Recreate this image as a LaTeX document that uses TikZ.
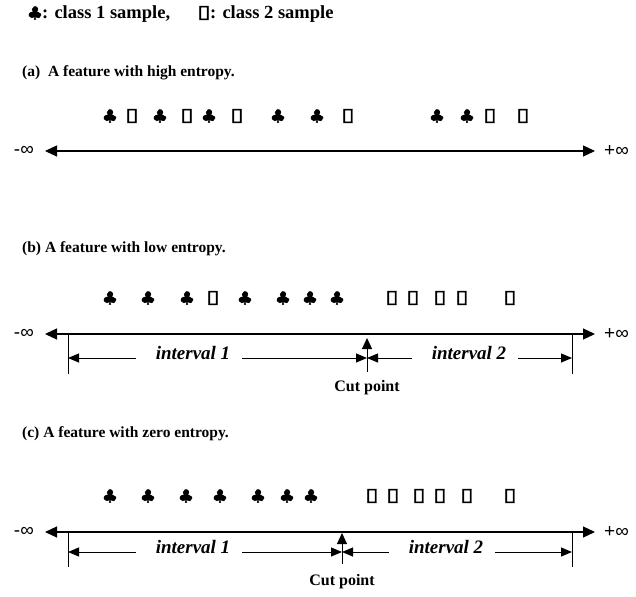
\documentclass[tikz,border=0pt]{standalone}
\usepackage{fontspec}
\setmainfont{Liberation Serif}
\newfontfamily\inffont{Liberation Sans}
\newfontfamily\suitfont[FakeBold=2]{DejaVu Sans}
\newfontfamily\boxfont[FakeBold=2.5, FakeStretch=1.35]{DejaVu Sans}
\usetikzlibrary{arrows.meta}

\tikzset{
  heading/.style={anchor=base west, inner sep=0pt, font=\bfseries\fontsize{15.5}{18}\selectfont},
  keytext/.style={anchor=base west, inner sep=0pt, font=\bfseries\fontsize{18.5}{20}\selectfont},
  clubmark/.style={inner sep=0pt, font=\suitfont\fontsize{18}{18}\selectfont},
  boxmark/.style={inner sep=0pt, font=\boxfont\fontsize{18}{18}\selectfont},
  infinity/.style={inner sep=0pt, font=\inffont\fontsize{19}{19}\selectfont},
  axisline/.style={line width=1.2pt, {Triangle[length=12pt,width=11pt]}-{Triangle[length=12pt,width=11pt]}},
  tickline/.style={line width=1pt},
  intervalline/.style={line width=1pt, -{Triangle[length=11pt,width=9pt]}},
  cutline/.style={line width=1pt, -{Triangle[length=11pt,width=10pt]}},
  intervallabel/.style={inner sep=0pt, font=\bfseries\itshape\fontsize{19}{21}\selectfont},
  cutlabel/.style={inner sep=0pt, font=\bfseries\fontsize{16}{18}\selectfont},
}

\begin{document}
\begin{tikzpicture}[x=1pt, y=-1pt]
    \useasboundingbox (0,0) rectangle (636,596);

    % legend
    \node[clubmark] (key1) at (35,13) {♣};
    \node[keytext] (key1text) at (42,19) {: class 1 sample,};
    \node[boxmark] (key2) at (204,13) {▯};
    \node[keytext] (key2text) at (210,19) {: class 2 sample};

    % (a)
    \node[heading] (heada) at (22,77) {(a)\ \ A feature with high entropy.};
    \foreach \x [count=\i] in {110,160,209,278,317,437,467}
        \node[clubmark] (aclub\i) at (\x,116) {♣};
    \foreach \x [count=\i] in {132,187,237,348,490,523}
        \node[boxmark] (abox\i) at (\x,116) {▯};
    \coordinate (aL) at (45,151);
    \coordinate (aR) at (595,151);
    \draw[axisline] (aL) -- (aR);
    \node[infinity, anchor=east] (aminus) at (34,151) {-∞};
    \node[infinity, anchor=west] (aplus) at (604,151) {+∞};

    % (b)
    \node[heading] (headb) at (22,252) {(b) A feature with low entropy.};
    \foreach \x [count=\i] in {110,148,187,245,283,310,337}
        \node[clubmark] (bclub\i) at (\x,298) {♣};
    \foreach \x [count=\i] in {213,392,413,440,462,510}
        \node[boxmark] (bbox\i) at (\x,298) {▯};
    \coordinate (bL) at (45,334);
    \coordinate (bR) at (595,334);
    \draw[axisline] (bL) -- (bR);
    \node[infinity, anchor=east] (bminus) at (34,334) {-∞};
    \node[infinity, anchor=west] (bplus) at (604,334) {+∞};
    \coordinate (btick1) at (68,334);
    \coordinate (btick1e) at (68,374);
    \coordinate (btick2) at (572,334);
    \coordinate (btick2e) at (572,374);
    \draw[tickline] (btick1) -- (btick1e); % left end
    \draw[tickline] (btick2) -- (btick2e); % right end
    \coordinate (bcut) at (367,338);
    \coordinate (bcutfoot) at (367,372);
    \draw[cutline] (bcutfoot) -- (bcut);
    \coordinate (b1m) at (68,358);
    \coordinate (bcm) at (367,358);
    \coordinate (b2m) at (572,358);
    \node[intervallabel] (biv1) at (193,353) {interval 1};
    \node[intervallabel] (biv2) at (469,353) {interval 2};
    \draw[intervalline] ([xshift=-20pt]biv1.west |- b1m) -- (b1m);
    \draw[intervalline] ([xshift=12pt]biv1.east |- bcm) -- (bcm);
    \draw[intervalline] ([xshift=-20pt]biv2.west |- bcm) -- (bcm);
    \draw[intervalline] ([xshift=12pt]biv2.east |- b2m) -- (b2m);
    \node[cutlabel] (bcuttext) at (367,388) {Cut point};

    % (c)
    \node[heading] (headc) at (22,437) {(c) A feature with zero entropy.};
    \foreach \x [count=\i] in {110,148,186,220,258,287,311}
        \node[clubmark] (cclub\i) at (\x,496) {♣};
    \foreach \x [count=\i] in {372,393,419,440,467,510}
        \node[boxmark] (cbox\i) at (\x,496) {▯};
    \coordinate (cL) at (45,532);
    \coordinate (cR) at (595,532);
    \draw[axisline] (cL) -- (cR);
    \node[infinity, anchor=east] (cminus) at (34,532) {-∞};
    \node[infinity, anchor=west] (cplus) at (604,532) {+∞};
    \coordinate (ctick1) at (68,532);
    \coordinate (ctick1e) at (68,567);
    \coordinate (ctick2) at (572,532);
    \coordinate (ctick2e) at (572,567);
    \draw[tickline] (ctick1) -- (ctick1e); % left end
    \draw[tickline] (ctick2) -- (ctick2e); % right end
    \coordinate (ccut) at (342,533);
    \coordinate (ccutfoot) at (342,564);
    \draw[cutline] (ccutfoot) -- (ccut);
    \coordinate (c1m) at (68,552);
    \coordinate (ccm) at (342,552);
    \coordinate (c2m) at (572,552);
    \node[intervallabel] (civ1) at (193,547) {interval 1};
    \node[intervallabel] (civ2) at (446,547) {interval 2};
    \draw[intervalline] ([xshift=-20pt]civ1.west |- c1m) -- (c1m);
    \draw[intervalline] ([xshift=12pt]civ1.east |- ccm) -- (ccm);
    \draw[intervalline] ([xshift=-20pt]civ2.west |- ccm) -- (ccm);
    \draw[intervalline] ([xshift=12pt]civ2.east |- c2m) -- (c2m);
    \node[cutlabel] (ccuttext) at (342,582) {Cut point};
\end{tikzpicture}
\end{document}
